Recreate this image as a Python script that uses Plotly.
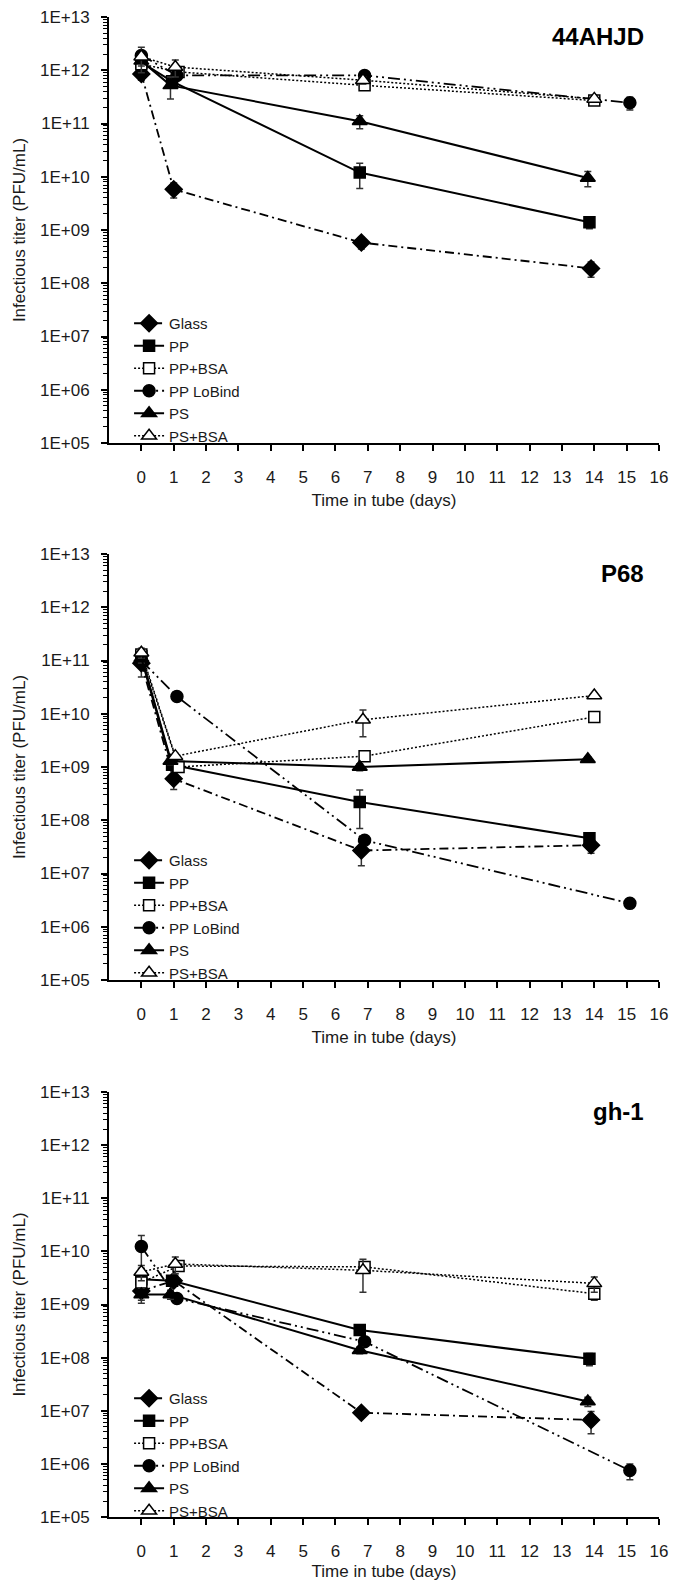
import plotly.graph_objects as go
from plotly.subplots import make_subplots

# ---------------- data ----------------
SERIES = ["Glass", "PP", "PP+BSA", "PP LoBind", "PS", "PS+BSA"]
PANELS = ["44AHJD", "P68", "gh-1"]

# sampling days per series (slightly offset in the original chart)
X_GLASS = [0, 1.0, 6.8, 13.9]
X_PP = [0, 0.95, 6.75, 13.85]
X_PPBSA = [0, 1.15, 6.9, 14.0]
X_LOBIND = [0, 1.1, 6.9, 15.1]
X_PS = [0, 0.9, 6.75, 13.8]
X_PSBSA = [0, 1.05, 6.85, 14.0]

# 44AHJD
A_GLASS = [8.5e11, 5.8e9, 5.8e8, 1.9e8]
A_PP = [1.4e12, 6.2e11, 1.2e10, 1.4e9]
A_PPBSA = [1.3e12, 9.3e11, 5.2e11, 2.7e11]
A_LOBIND = [1.9e12, 8.0e11, 8.0e11, 2.45e11]
A_PS = [1.5e12, 5.2e11, 1.1e11, 9.5e9]
A_PSBSA = [1.8e12, 1.15e12, 6.5e11, 2.9e11]
A_GLASS_SD = [2e11, 1.8e9, 1.4e8, 6e7]
A_PP_SD = [3e11, 1e11, 6e9, 3.5e8]
A_PPBSA_SD = [2e11, 1e11, 8e10, 3e10]
A_LOBIND_SD = [3e11, 1e11, 1e11, 6.5e10]
A_PS_SD = [3e11, 2.3e11, 3e10, 3e9]
A_PSBSA_SD = [9e11, 4e11, 1e11, 3e10]

# P68
B_GLASS = [8.9e10, 6.0e8, 2.7e7, 3.4e7]
B_PP = [1.2e11, 1.1e9, 2.2e8, 4.6e7]
B_PPBSA = [1.3e11, 1.0e9, 1.6e9, 8.7e9]
B_LOBIND = [1.0e11, 2.1e10, 4.2e7, 2.75e6]
B_PS = [1.1e11, 1.3e9, 1.0e9, 1.4e9]
B_PSBSA = [1.4e11, 1.6e9, 7.7e9, 2.2e10]
B_GLASS_SD = [4e10, 2.2e8, 1.3e7, 1e7]
B_PP_SD = [2e10, 2e8, 1.5e8, 5e6]
B_PPBSA_SD = [2e10, 1.5e8, 3e8, 1e9]
B_LOBIND_SD = [1e10, 2e9, 5e6, 2e5]
B_PS_SD = [2e10, 2e8, 1.5e8, 1.5e8]
B_PSBSA_SD = [3e10, 2e8, 4e9, 2e9]

# gh-1
C_GLASS = [1.8e9, 2.8e9, 9.2e6, 6.7e6]
C_PP = [3.0e9, 2.8e9, 3.3e8, 9.5e7]
C_PPBSA = [2.6e9, 5.3e9, 5.1e9, 1.6e9]
C_LOBIND = [1.23e10, 1.3e9, 2.0e8, 7.5e5]
C_PS = [1.55e9, 1.55e9, 1.38e8, 1.5e7]
C_PSBSA = [4.1e9, 5.8e9, 4.4e9, 2.5e9]
C_GLASS_SD = [6e8, 6e8, 1e6, 3e6]
C_PP_SD = [5e8, 6e8, 5e7, 2.5e7]
C_PPBSA_SD = [1e9, 7e8, 1e9, 4e8]
C_LOBIND_SD = [7.5e9, 2e8, 3e7, 2.5e5]
C_PS_SD = [5e8, 3e8, 2e7, 3e6]
C_PSBSA_SD = [1.3e9, 2e9, 2.7e9, 8e8]

Y_TICKVALS = [1e5, 1e6, 1e7, 1e8, 1e9, 1e10, 1e11, 1e12, 1e13]
Y_TICKTEXT = ["1E+05", "1E+06", "1E+07", "1E+08", "1E+09", "1E+10", "1E+11", "1E+12", "1E+13"]
X_TICKVALS = list(range(0, 17))

# ---------------- styling ----------------
FONT = "Liberation Sans, Arial, sans-serif"
STYLE = {
    "Glass": dict(symbol="diamond", size=13, fill="black", dash="9px,4px,2px,4px", width=1.8),
    "PP": dict(symbol="square", size=11, fill="black", dash="solid", width=2),
    "PP+BSA": dict(symbol="square", size=11, fill="white", dash="2px,2px", width=1.5),
    "PP LoBind": dict(symbol="circle", size=12, fill="black", dash="12px,4px,2px,4px,2px,4px", width=1.8),
    "PS": dict(symbol="triangle-up", size=13, fill="black", dash="solid", width=2),
    "PS+BSA": dict(symbol="triangle-up", size=13, fill="white", dash="2px,2px", width=1.5),
}
XS = [X_GLASS, X_PP, X_PPBSA, X_LOBIND, X_PS, X_PSBSA]
PANEL_DATA = [
    ([A_GLASS, A_PP, A_PPBSA, A_LOBIND, A_PS, A_PSBSA],
     [A_GLASS_SD, A_PP_SD, A_PPBSA_SD, A_LOBIND_SD, A_PS_SD, A_PSBSA_SD]),
    ([B_GLASS, B_PP, B_PPBSA, B_LOBIND, B_PS, B_PSBSA],
     [B_GLASS_SD, B_PP_SD, B_PPBSA_SD, B_LOBIND_SD, B_PS_SD, B_PSBSA_SD]),
    ([C_GLASS, C_PP, C_PPBSA, C_LOBIND, C_PS, C_PSBSA],
     [C_GLASS_SD, C_PP_SD, C_PPBSA_SD, C_LOBIND_SD, C_PS_SD, C_PSBSA_SD]),
]

W, H = 673, 1581
ML, MR, MT, MB = 109, 14, 17, 64
PH = H - MT - MB


def py2paper(py):
    return 1 - (py - MT) / PH


# plot areas in pixels (top, bottom)
PANEL_PX = [(17, 443), (554, 980), (1092, 1517)]

fig = make_subplots(rows=3, cols=1)

legend_names = ["legend", "legend2", "legend3"]
for p, (vals, sds) in enumerate(PANEL_DATA):
    for s, name in enumerate(SERIES):
        st = STYLE[name]
        y = vals[s]
        sd = sds[s]
        minus = [min(e, v * 0.9) for e, v in zip(sd, y)]
        fig.add_trace(
            go.Scatter(
                x=XS[s], y=y, name=name, mode="lines+markers",
                line=dict(color="black", width=st["width"], dash=st["dash"]),
                marker=dict(symbol=st["symbol"], size=st["size"], color=st["fill"],
                            line=dict(color="black", width=1.5)),
                error_y=dict(type="data", array=sd, arrayminus=minus, symmetric=False,
                             color="#333333", thickness=1.5, width=3.5),
                legend=legend_names[p], showlegend=True,
            ),
            row=p + 1, col=1,
        )

layout = dict(
    width=W, height=H,
    margin=dict(l=ML, r=MR, t=MT, b=MB),
    paper_bgcolor="white", plot_bgcolor="white",
    font=dict(family=FONT, size=17, color="#1a1a1a"),
    showlegend=True,
)

for p in range(3):
    top, bot = PANEL_PX[p]
    ax = "" if p == 0 else str(p + 1)
    layout["xaxis" + ax] = dict(
        domain=[0, 1], range=[-1, 16], tickvals=X_TICKVALS,
        ticks="outside", ticklen=6, tickwidth=1.5, tickcolor="black",
        showline=True, linewidth=2, linecolor="black", showgrid=False, zeroline=False,
        tickfont=dict(size=17, color="#1a1a1a"), ticklabelstandoff=12,
        title=dict(text="Time in tube (days)", font=dict(size=17, color="#1a1a1a"), standoff=8),
        automargin=False,
    )
    layout["yaxis" + ax] = dict(
        domain=[py2paper(bot), py2paper(top)], type="log", range=[5, 13],
        tickvals=Y_TICKVALS, ticktext=Y_TICKTEXT,
        ticks="outside", ticklen=6, tickwidth=1.5, tickcolor="black",
        minor=dict(ticks="outside", ticklen=4, tickwidth=1, tickcolor="black",
                   tickvals=[k * 10 ** e for e in range(5, 13) for k in range(2, 10)]),
        showline=True, linewidth=2, linecolor="black", showgrid=False, zeroline=False,
        tickfont=dict(size=17, color="#1a1a1a"), ticklabelstandoff=8,
        title=dict(text="Infectious titer (PFU/mL)", font=dict(size=17, color="#1a1a1a"), standoff=10),
        automargin=False,
    )
    layout[legend_names[p]] = dict(
        x=0.0365, xanchor="left", y=py2paper(top + 290), yanchor="top",
        bgcolor="rgba(0,0,0,0)", borderwidth=0, font=dict(size=15, color="#1a1a1a"),
        tracegroupgap=0, itemsizing="trace",
    )

fig.update_layout(**layout)

for p, name in enumerate(PANELS):
    fig.add_annotation(
        text="<b>%s</b>" % name, xref="paper", yref="paper",
        x=(646 - ML) / (W - ML - MR), xanchor="right",
        y=py2paper(PANEL_PX[p][0] + 19.5), yanchor="middle",
        showarrow=False, font=dict(family=FONT, size=24, color="black"),
    )

fig.write_html("out.html", config={"displayModeBar": False},
               post_script="document.body.style.margin='0px';")
